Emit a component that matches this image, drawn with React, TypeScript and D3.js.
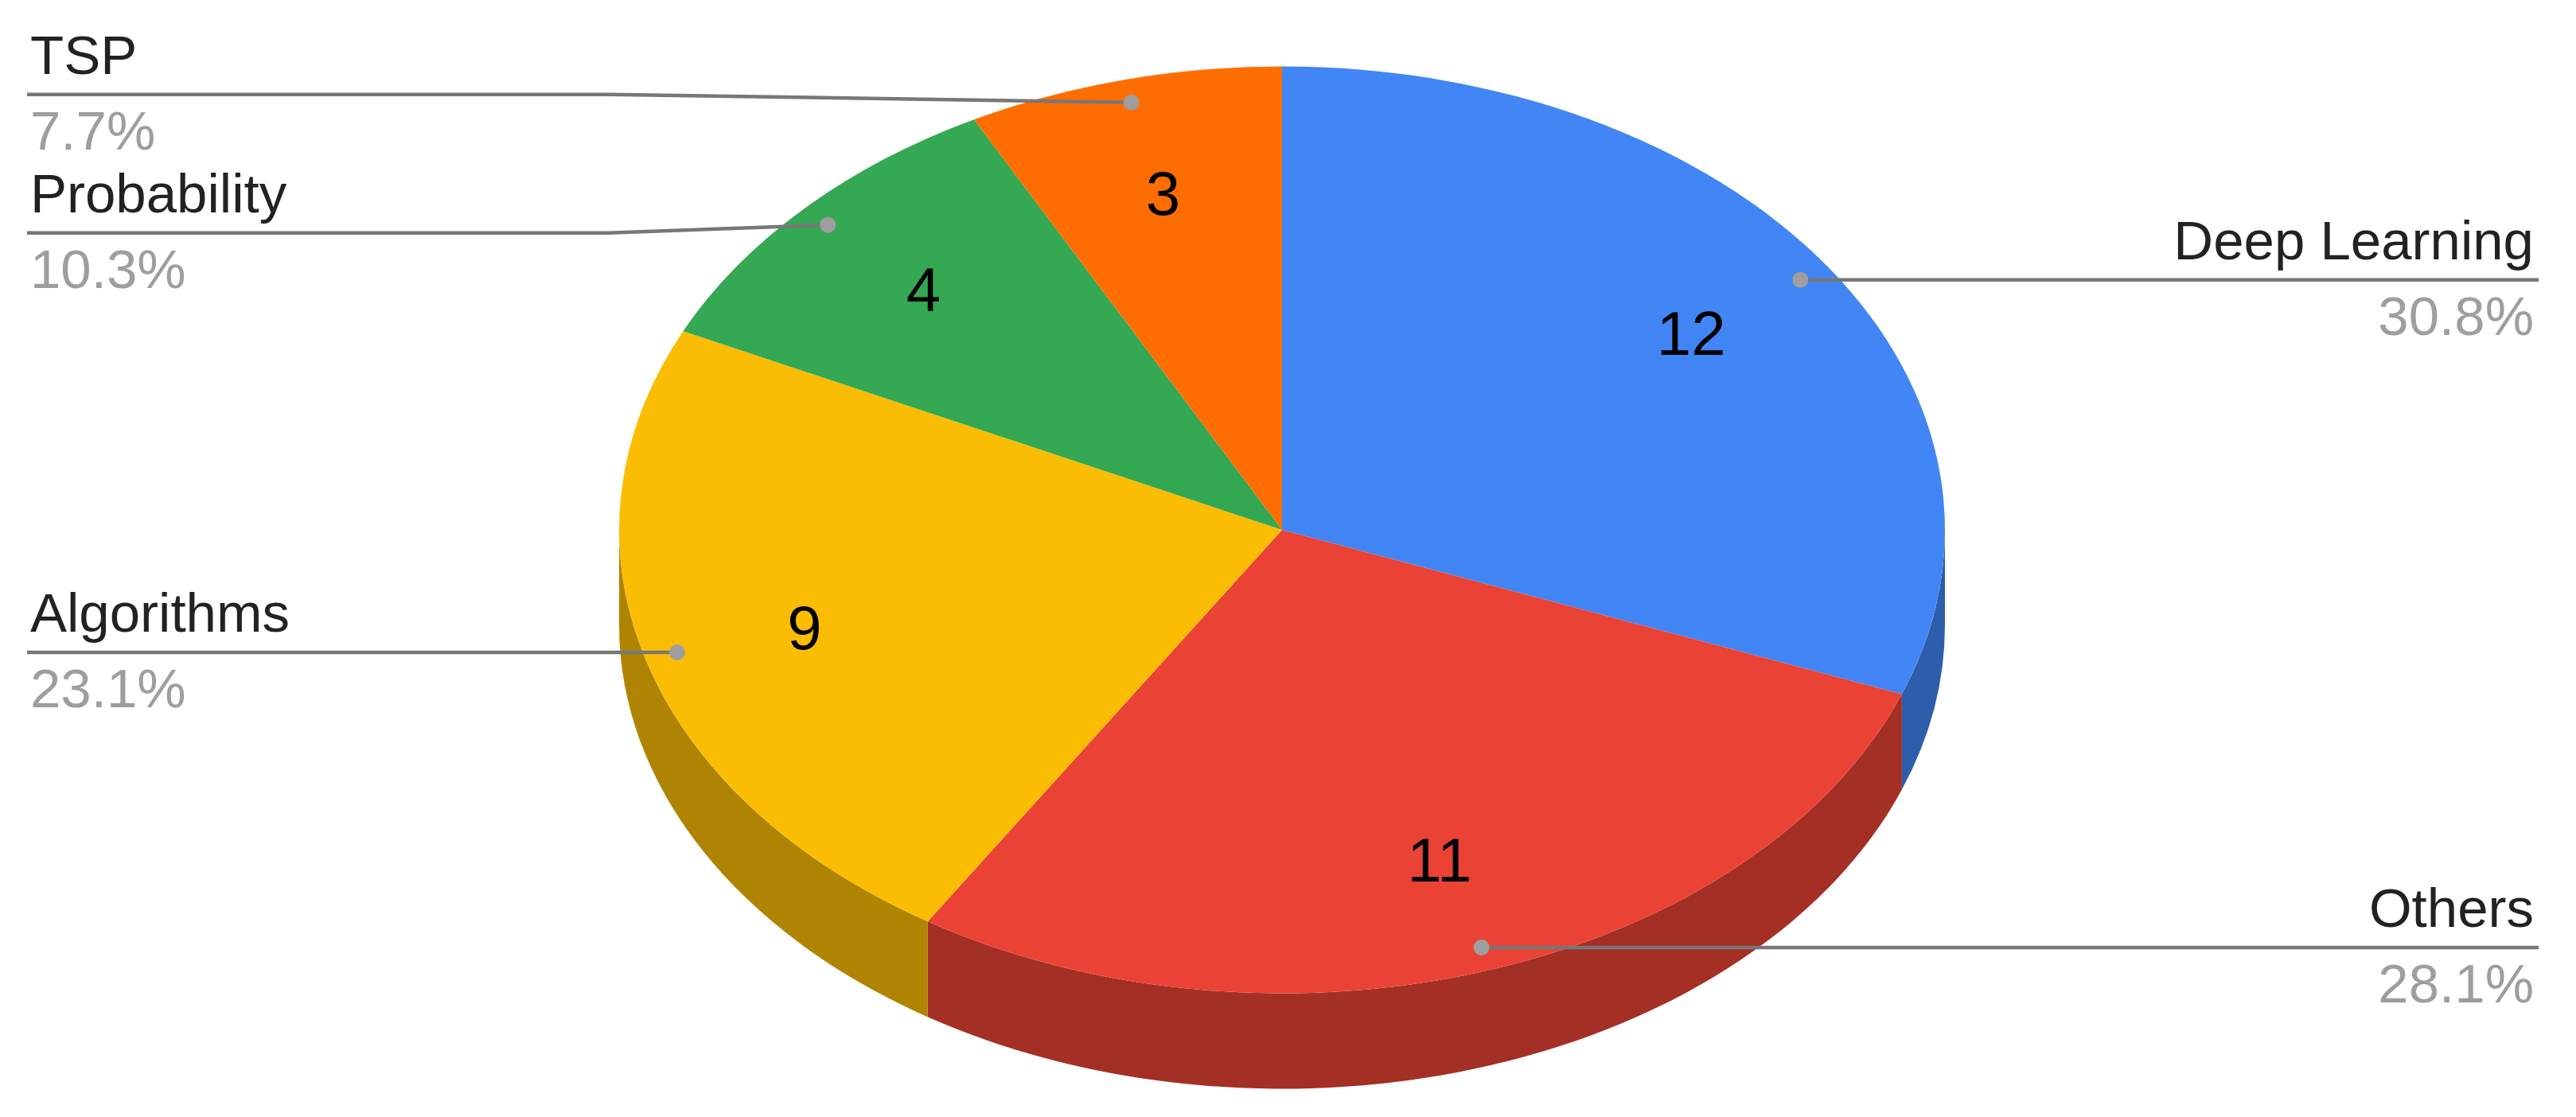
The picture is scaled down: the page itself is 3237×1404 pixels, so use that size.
import React from 'react'
import * as d3 from 'd3'

// slice data, clockwise from 12 o'clock
const categories = ['Deep Learning', 'Others', 'Algorithms', 'Probability', 'TSP']
const counts = [12, 11, 9, 4, 3]
const percentLabels = ['30.8%', '28.1%', '23.1%', '10.3%', '7.7%']
const colors = ['#4285F4', '#EA4335', '#FBBC04', '#34A853', '#FF6D01']

const W = 3237, H = 1404
const cx = 1611, cy = 666, rx = 833, ry = 582.5, depth = 120
const font = '"Liberation Sans", Arial, sans-serif'

const pt = (a: number, k = 1, dy = 0): [number, number] =>
  [cx + k * rx * Math.sin(a), cy - k * ry * Math.cos(a) + dy]

function sidePath(s: number, e: number) {
  const a0 = Math.max(s, Math.PI / 2), a1 = Math.min(e, Math.PI * 1.5)
  if (a1 <= a0) return null
  const [x0, y0] = pt(a0), [x1, y1] = pt(a1)
  return `M${x0},${y0}A${rx},${ry} 0 0 1 ${x1},${y1}L${x1},${y1 + depth}A${rx},${ry} 0 0 0 ${x0},${y0 + depth}Z`
}

export default function App() {
  const arcs = d3.pie<number>().sort(null).value(d => d)(counts)
  const arc = d3.arc<d3.PieArcDatum<number>>().innerRadius(0).outerRadius(rx)

  // label anchors on the pie surface
  const labels = arcs.map((a, i) => {
    const mid = (a.startAngle + a.endAngle) / 2
    const dot = pt(mid, 0.95)
    return { i, mid, dot, side: Math.sin(mid) >= 0 ? 'right' : 'left', y: dot[1] }
  })
  // push labels apart on each side
  const minGap = 174
  for (const side of ['left', 'right']) {
    const grp = labels.filter(l => l.side === side).sort((a, b) => a.y - b.y)
    for (let it = 0; it < 20; it++) {
      for (let j = 1; j < grp.length; j++) {
        const d = grp[j].y - grp[j - 1].y
        if (d < minGap) { const s = (minGap - d) / 2; grp[j - 1].y -= s; grp[j].y += s }
      }
    }
  }
  const line = d3.line()
  const leftEnd = 34, rightEnd = 3190, leftElbow = 765, rightElbow = 2457

  return (
    <svg width={W} height={H} style={{ position: 'absolute', left: 0, top: 0, background: '#fff' }} fontFamily={font}>
      <g>
        {arcs.map((a, i) => {
          const d = sidePath(a.startAngle, a.endAngle)
          return d ? <path key={i} d={d} fill={d3.color(colors[i])!.darker(1).formatHex()} /> : null
        })}
      </g>
      <g transform={`translate(${cx},${cy}) scale(1,${ry / rx})`}>
        {arcs.map((a, i) => <path key={i} d={arc(a)!} fill={colors[i]} />)}
      </g>
      <g>
        {arcs.map((a, i) => {
          const [x, y] = pt((a.startAngle + a.endAngle) / 2, 0.75)
          return <text key={i} x={x} y={y} dy="0.36em" textAnchor="middle" fontSize={78} fill="#000">{counts[i]}</text>
        })}
      </g>
      <g>
        {labels.map(l => {
          const left = l.side === 'left'
          const pts: [number, number][] = [l.dot, [left ? leftElbow : rightElbow, l.y], [left ? leftEnd : rightEnd, l.y]]
          const tx = left ? 38 : 3184
          return (
            <g key={l.i}>
              <path d={line(pts)!} fill="none" stroke="#777" strokeWidth={4.5} />
              <circle cx={l.dot[0]} cy={l.dot[1]} r={10} fill="#9e9e9e" />
              <text x={tx} y={l.y - 26} textAnchor={left ? 'start' : 'end'} fontSize={69} fill="#222">{categories[l.i]}</text>
              <text x={tx} y={l.y + 69} textAnchor={left ? 'start' : 'end'} fontSize={69} fill="#9e9e9e">{percentLabels[l.i]}</text>
            </g>
          )
        })}
      </g>
    </svg>
  )
}
